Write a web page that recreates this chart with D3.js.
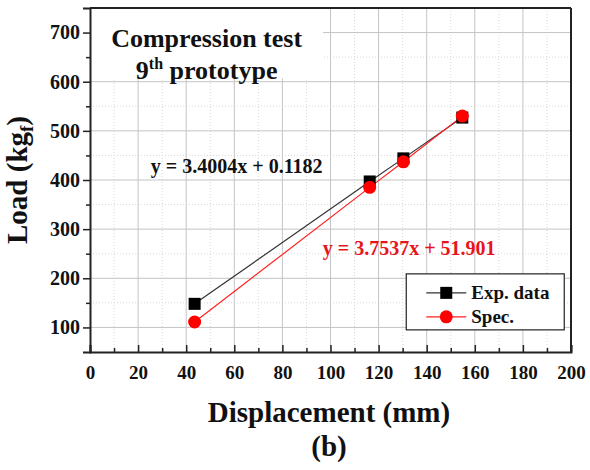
<!DOCTYPE html>
<html>
<head>
<meta charset="utf-8">
<script src="https://cdn.jsdelivr.net/npm/d3@7"></script>
<style>
  body { margin: 0; background: #fff; }
  svg { font-family: "Liberation Serif", "Times New Roman", serif; font-weight: bold; }
</style>
</head>
<body>
<svg id="chart" width="590" height="470"></svg>
<script>
// data
const displacement = [43.5, 116.3, 130.3, 154.8];
const expLoad = [148, 397, 444, 527];
const specLoad = [111, 385, 437, 530];
const xTicks = [0, 20, 40, 60, 80, 100, 120, 140, 160, 180, 200];
const yTicks = [100, 200, 300, 400, 500, 600, 700];
const seriesNames = ["Exp. data", "Spec."];
const seriesColors = ["#000000", "#ff0000"];

const svg = d3.select("#chart");
const margin = { top: 8, right: 19, bottom: 118, left: 90 };
const width = 590, height = 470;
const innerWidth = width - margin.left - margin.right;
const innerHeight = height - margin.top - margin.bottom;

const x = d3.scaleLinear().domain([0, 200]).range([0, innerWidth]);
const y = d3.scaleLinear().domain([50, 750]).range([innerHeight, 0]);

const g = svg.append("g").attr("transform", `translate(${margin.left},${margin.top})`);

// minor grid (dotted)
const minorX = d3.range(10, 200, 20);
const minorY = d3.range(150, 750, 100);
g.append("g").selectAll("line")
  .data(minorX)
  .join("line")
  .attr("x1", d => x(d)).attr("x2", d => x(d))
  .attr("y1", 0).attr("y2", innerHeight)
  .attr("stroke", "#d8d8d8").attr("stroke-dasharray", "1 2");
g.append("g").selectAll("line")
  .data(minorY)
  .join("line")
  .attr("y1", d => y(d)).attr("y2", d => y(d))
  .attr("x1", 0).attr("x2", innerWidth)
  .attr("stroke", "#d8d8d8").attr("stroke-dasharray", "1 2");

// major grid
g.append("g").selectAll("line")
  .data(xTicks.slice(1, -1))
  .join("line")
  .attr("x1", d => x(d)).attr("x2", d => x(d))
  .attr("y1", 0).attr("y2", innerHeight)
  .attr("stroke", "#c4c4c4");
g.append("g").selectAll("line")
  .data(yTicks)
  .join("line")
  .attr("y1", d => y(d)).attr("y2", d => y(d))
  .attr("x1", 0).attr("x2", innerWidth)
  .attr("stroke", "#c4c4c4");

// title box covers the grid
g.append("rect")
  .attr("x", 1).attr("y", 1)
  .attr("width", x(96.5)).attr("height", y(607) - 1)
  .attr("fill", "#fff");

g.append("text")
  .attr("x", x(48.5)).attr("y", 39)
  .attr("text-anchor", "middle")
  .attr("font-size", 26)
  .attr("fill", "#111")
  .text("Compression test");
const t2 = g.append("text")
  .attr("x", x(48.5)).attr("y", 71)
  .attr("text-anchor", "middle")
  .attr("font-size", 26)
  .attr("fill", "#111");
t2.append("tspan").text("9");
t2.append("tspan").attr("dy", -10).attr("font-size", 16).text("th");
t2.append("tspan").attr("dy", 10).text(" prototype");

// bottom axis, ticks inward
g.append("g")
  .attr("transform", `translate(0,${innerHeight})`)
  .call(d3.axisBottom(x).tickValues(xTicks).tickSize(-7).tickPadding(14))
  .selectAll(".tick text").attr("font-size", 19);
g.append("g")
  .attr("transform", `translate(0,${innerHeight})`)
  .call(d3.axisBottom(x).tickValues(minorX).tickSize(-4).tickFormat(""))
  .call(a => a.select(".domain").remove())
  .call(a => a.selectAll(".tick text").remove());

// left axis, ticks outward
g.append("g")
  .call(d3.axisLeft(y).tickValues(yTicks).tickSize(7).tickPadding(3))
  .selectAll(".tick text").attr("font-size", 20);
g.append("g")
  .call(d3.axisLeft(y).tickValues(minorY).tickSize(4).tickFormat(""))
  .call(a => a.select(".domain").remove())
  .call(a => a.selectAll(".tick text").remove());

svg.selectAll(".tick text")
  .attr("font-family", "Liberation Serif, serif")
  .attr("font-weight", "bold")
  .attr("fill", "#111");
svg.selectAll(".tick line").attr("stroke", "#222").attr("stroke-width", 1.5);
svg.selectAll(".domain").attr("stroke", "#222").attr("stroke-width", 2);

// frame top and right
g.append("line").attr("x1", 0).attr("x2", innerWidth).attr("y1", 0).attr("y2", 0)
  .attr("stroke", "#222").attr("stroke-width", 2);
g.append("line").attr("x1", innerWidth).attr("x2", innerWidth).attr("y1", 0).attr("y2", innerHeight)
  .attr("stroke", "#222").attr("stroke-width", 2);

// series lines
const line = d3.line().x(d => x(d[0])).y(d => y(d[1]));
const expPts = displacement.map((d, i) => [d, expLoad[i]]);
const specPts = displacement.map((d, i) => [d, specLoad[i]]);

g.append("path").datum(expPts).attr("d", line)
  .attr("fill", "none").attr("stroke", "#333").attr("stroke-width", 1.2);
g.append("path").datum(specPts).attr("d", line)
  .attr("fill", "none").attr("stroke", "#ff2020").attr("stroke-width", 1.2);

g.selectAll("rect.sq")
  .data(expPts)
  .join("rect")
  .attr("class", "sq")
  .attr("x", d => x(d[0]) - 6).attr("y", d => y(d[1]) - 6)
  .attr("width", 12).attr("height", 12)
  .attr("fill", "#000");
g.selectAll("circle.dot")
  .data(specPts)
  .join("circle")
  .attr("class", "dot")
  .attr("cx", d => x(d[0])).attr("cy", d => y(d[1]))
  .attr("r", 6.5)
  .attr("fill", "#ff0000");

// equations
g.append("text")
  .attr("x", x(25.3)).attr("y", 165)
  .attr("font-size", 20).attr("fill", "#111")
  .text("y = 3.4004x + 0.1182");
g.append("text")
  .attr("x", x(96.8)).attr("y", 247)
  .attr("font-size", 20).attr("fill", "#e8141c")
  .text("y = 3.7537x + 51.901");

// legend
const lg = g.append("g").attr("transform", `translate(${x(131.5)},${y(209)})`);
lg.append("rect")
  .attr("width", 158).attr("height", 56)
  .attr("fill", "#fff").attr("stroke", "#222").attr("stroke-width", 1.2);
seriesNames.forEach((name, i) => {
  const row = lg.append("g").attr("transform", `translate(0,${19 + i * 24})`);
  row.append("line").attr("x1", 20).attr("x2", 60).attr("y1", 0).attr("y2", 0)
    .attr("stroke", i === 0 ? "#333" : "#ff2020").attr("stroke-width", 1.2);
  if (i === 0) {
    row.append("rect").attr("x", 34).attr("y", -6).attr("width", 12).attr("height", 12)
      .attr("fill", seriesColors[i]);
  } else {
    row.append("circle").attr("cx", 40).attr("cy", 0).attr("r", 6.5).attr("fill", seriesColors[i]);
  }
  row.append("text").attr("x", 65).attr("y", 6)
    .attr("font-size", 19).attr("fill", "#111").text(name);
});

// axis titles
svg.append("text")
  .attr("x", 329).attr("y", 422)
  .attr("text-anchor", "middle")
  .attr("font-size", 29).attr("fill", "#111")
  .text("Displacement (mm)");
svg.append("text")
  .attr("x", 329).attr("y", 456)
  .attr("text-anchor", "middle")
  .attr("font-size", 29).attr("fill", "#111")
  .text("(b)");

const yl = svg.append("text")
  .attr("transform", `translate(27,180) rotate(-90)`)
  .attr("text-anchor", "middle")
  .attr("font-size", 29).attr("fill", "#111");
yl.append("tspan").text("Load (kg");
yl.append("tspan").attr("font-size", 19).attr("dy", 6).text("f");
yl.append("tspan").attr("dy", -6).text(")");
</script>
</body>
</html>
